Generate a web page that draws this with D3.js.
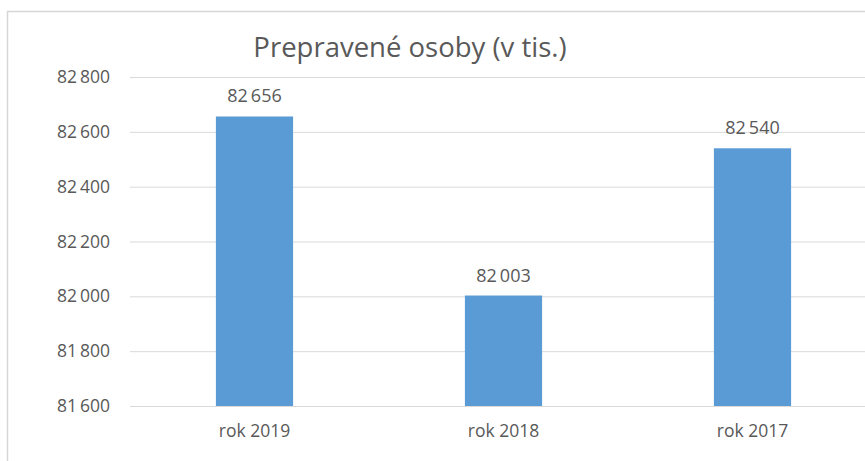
<html>
<head>
<script src="https://d3js.org/d3.v7.min.js"></script>
<style>
  body { margin: 0; background: #fff; }
  svg { display: block; font-family: "Open Sans", sans-serif; }
</style>
</head>
<body>
<svg width="865" height="461"></svg>
<script>
// data
var categories = ["rok 2019", "rok 2018", "rok 2017"];
var values = [82656, 82003, 82540];
var yTicks = [81600, 81800, 82000, 82200, 82400, 82600, 82800];
var title = "Prepravené osoby (v tis.)";

var svg = d3.select("svg");
var textColor = "#595959";
var fmt = function(v) { return d3.format(",")(v).replace(",", "\u2009"); };

// chart border (cut off on the right and bottom)
svg.append("rect")
  .attr("x", 7.5).attr("y", 11.5)
  .attr("width", 900).attr("height", 500)
  .attr("fill", "none")
  .attr("stroke", "#d6d6d6")
  .attr("stroke-width", 1.5);

var plotLeft = 130, plotRight = 877, plotTop = 77, plotBottom = 406;

var x = d3.scaleBand().domain(categories).range([plotLeft, plotRight]).paddingInner(0.69).paddingOuter(0.345);
var y = d3.scaleLinear().domain([81600, 82800]).range([plotBottom, plotTop]);

// gridlines
svg.append("g").selectAll("line").data(yTicks).enter().append("line")
  .attr("x1", plotLeft).attr("x2", 865)
  .attr("y1", function(d) { return y(d) + 0.5; })
  .attr("y2", function(d) { return y(d) + 0.5; })
  .attr("stroke", "#d9d9d9")
  .attr("stroke-width", 1);

// y axis labels
var yaxis = svg.append("g")
  .attr("transform", "translate(" + (plotLeft - 20) + ",0)")
  .call(d3.axisLeft(y).tickValues(yTicks).tickSize(0).tickPadding(0).tickFormat(fmt));
yaxis.select(".domain").remove();
yaxis.selectAll("text")
  .attr("fill", textColor)
  .style("font-size", "17.5px")
  .style("font-family", "Open Sans, sans-serif");

// bars
svg.append("g").selectAll("rect").data(values).enter().append("rect")
  .attr("x", function(d, i) { return x(categories[i]); })
  .attr("y", function(d) { return y(d); })
  .attr("width", x.bandwidth())
  .attr("height", function(d) { return plotBottom - y(d); })
  .attr("fill", "#5b9bd5");

// value labels
svg.append("g").selectAll("text").data(values).enter().append("text")
  .attr("x", function(d, i) { return x(categories[i]) + x.bandwidth() / 2; })
  .attr("y", function(d) { return y(d) - 14; })
  .attr("text-anchor", "middle")
  .attr("fill", textColor)
  .style("font-size", "18px")
  .text(fmt);

// x axis labels
var xaxis = svg.append("g")
  .attr("transform", "translate(0," + (plotBottom + 19) + ")")
  .call(d3.axisBottom(x).tickSize(0).tickPadding(0));
xaxis.select(".domain").remove();
xaxis.selectAll("text")
  .attr("fill", textColor)
  .attr("dy", "0.71em")
  .style("font-size", "17.5px")
  .style("font-family", "Open Sans, sans-serif");

// title
svg.append("text")
  .attr("x", 410).attr("y", 57)
  .attr("text-anchor", "middle")
  .attr("fill", textColor)
  .style("font-size", "27.5px")
  .text(title);
</script>
</body>
</html>
